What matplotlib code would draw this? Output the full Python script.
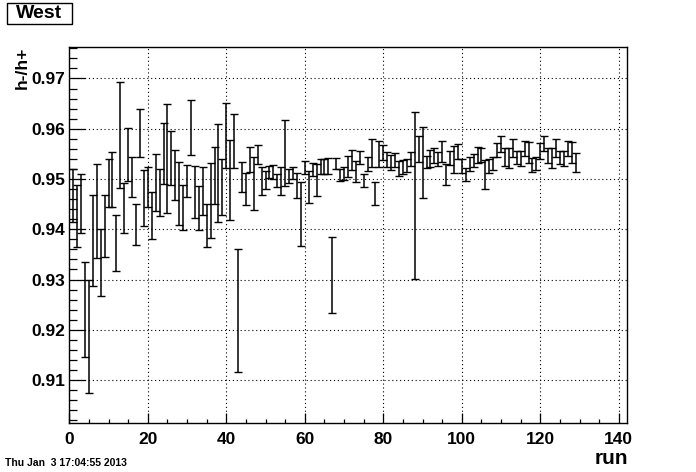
import matplotlib
matplotlib.use("Agg")
import matplotlib.pyplot as plt
from matplotlib.ticker import MultipleLocator, FormatStrFormatter
from matplotlib.patches import Rectangle

plt.rcParams['font.family'] = ['Liberation Sans', 'DejaVu Sans']
plt.rcParams['font.weight'] = 'bold'

runs = list(range(1, 130))
ratio = [
    0.9467, 0.9426, 0.9451, 0.9240, 0.9187, 0.9378, 0.9436, 0.9334, 0.9406, 0.9492,
    0.9499, 0.9373, 0.9588, 0.9442, 0.9549, 0.9504, 0.9410, 0.9591, 0.9462, 0.9484,
    0.9428, 0.9493, 0.9473, 0.9551, 0.9541, 0.9542, 0.9508, 0.9471, 0.9444, 0.9496,
    0.9602, 0.9474, 0.9443, 0.9476, 0.9407, 0.9457, 0.9507, 0.9512, 0.9484, 0.9586,
    0.9498, 0.9575, 0.9239, 0.9504, 0.9480, 0.9538, 0.9491, 0.9549, 0.9496, 0.9498,
    0.9514, 0.9514, 0.9497, 0.9496, 0.9552, 0.9506, 0.9512, 0.9487, 0.9430, 0.9522,
    0.9484, 0.9519, 0.9498, 0.9524, 0.9524, 0.9525, 0.9309, 0.9530, 0.9508, 0.9511,
    0.9524, 0.9537, 0.9515, 0.9542, 0.9497, 0.9529, 0.9551, 0.9472, 0.9550, 0.9552,
    0.9538, 0.9532, 0.9537, 0.9520, 0.9523, 0.9526, 0.9539, 0.9468, 0.9559, 0.9533,
    0.9533, 0.9541, 0.9546, 0.9539, 0.9554, 0.9509, 0.9541, 0.9538, 0.9555, 0.9526,
    0.9509, 0.9529, 0.9536, 0.9547, 0.9547, 0.9509, 0.9526, 0.9530, 0.9557, 0.9570,
    0.9543, 0.9541, 0.9561, 0.9542, 0.9540, 0.9560, 0.9552, 0.9527, 0.9530, 0.9555,
    0.9571, 0.9546, 0.9541, 0.9561, 0.9542, 0.9540, 0.9560, 0.9552, 0.9532,
]
errors = [
    0.0053, 0.0062, 0.0058, 0.0094, 0.0112, 0.0091, 0.0093, 0.0066, 0.0062, 0.0048,
    0.0054, 0.0056, 0.0105, 0.0050, 0.0052, 0.0039, 0.0041, 0.0048, 0.0055, 0.0039,
    0.0047, 0.0056, 0.0046, 0.0060, 0.0108, 0.0053, 0.0049, 0.0062, 0.0045, 0.0031,
    0.0055, 0.0051, 0.0044, 0.0048, 0.0043, 0.0074, 0.0057, 0.0098, 0.0055, 0.0065,
    0.0080, 0.0054, 0.0122, 0.0029, 0.0031, 0.0025, 0.0053, 0.0019, 0.0027, 0.0017,
    0.0012, 0.0014, 0.0012, 0.0027, 0.0065, 0.0013, 0.0012, 0.0024, 0.0064, 0.0013,
    0.0031, 0.0013, 0.0032, 0.0015, 0.0015, 0.0016, 0.0076, 0.0011, 0.0012, 0.0012,
    0.0021, 0.0020, 0.0020, 0.0013, 0.0013, 0.0014, 0.0028, 0.0023, 0.0026, 0.0015,
    0.0015, 0.0015, 0.0014, 0.0015, 0.0014, 0.0013, 0.0014, 0.0166, 0.0026, 0.0071,
    0.0012, 0.0017, 0.0015, 0.0014, 0.0021, 0.0020, 0.0014, 0.0027, 0.0015, 0.0014,
    0.0013, 0.0014, 0.0013, 0.0016, 0.0014, 0.0028, 0.0014, 0.0013, 0.0014, 0.0016,
    0.0018, 0.0020, 0.0018, 0.0013, 0.0015, 0.0015, 0.0021, 0.0014, 0.0013, 0.0016,
    0.0015, 0.0015, 0.0020, 0.0018, 0.0013, 0.0015, 0.0015, 0.0021, 0.0019,
]

title = "West"
xlabel = "run"
ylabel = "h-/h+"
datestamp = "Thu Jan  3 17:04:55 2013"

W, H = 696, 472
fig = plt.figure(figsize=(W / 100, H / 100), dpi=100)
ax = fig.add_axes([69.3 / W, 1 - 423.3 / H, (626.7 - 69.3) / W, (423.3 - 47.3) / H])

ax.errorbar(runs, ratio, yerr=errors, fmt='none', ecolor='black',
            elinewidth=1.1, capsize=2.6, capthick=1.0, zorder=3)

ax.set_xlim(0, 142)
ax.set_ylim(0.9014, 0.9762)

ax.xaxis.set_major_locator(MultipleLocator(20))
ax.xaxis.set_minor_locator(MultipleLocator(5))
ax.yaxis.set_major_locator(MultipleLocator(0.01))
ax.yaxis.set_minor_locator(MultipleLocator(0.002))
ax.yaxis.set_major_formatter(FormatStrFormatter('%.2f'))

ax.tick_params(axis='y', which='major', direction='in', length=11.5, width=0.9,
               left=True, right=False, pad=3, labelsize=12.5)
ax.tick_params(axis='y', which='minor', direction='in', length=5.8, width=0.9,
               left=True, right=False)
ax.tick_params(axis='x', which='major', direction='in', length=7.2, width=0.9,
               bottom=True, top=False, pad=6, labelsize=12.5)
ax.tick_params(axis='x', which='minor', direction='in', length=3.2, width=0.9,
               bottom=True, top=False)

for sp in ax.spines.values():
    sp.set_linewidth(1.0)
    sp.set_color('black')

ax.grid(True, which='major', color='black', linestyle=(0, (1, 2.5)), linewidth=0.8)
ax.set_axisbelow(True)

# title box
fig.patches.append(Rectangle((7 / W, 1 - 24 / H), 65 / W, 21 / H, transform=fig.transFigure,
                             fill=True, facecolor='white', edgecolor='black', linewidth=1.0))
fig.text(39.5 / W, 1 - 13.5 / H, title, ha='center', va='center', fontsize=14, fontweight='bold')

fig.text(22.5 / W, 1 - 47 / H, ylabel, rotation=90, ha='center', va='top',
         fontsize=12.5, fontweight='bold')
fig.text(628 / W, 1 - 459 / H, xlabel, ha='right', va='center', fontsize=15, fontweight='bold')
fig.text(5 / W, 1 - 463 / H, datestamp, ha='left', va='center', fontsize=7.5, fontweight='bold')

fig.savefig('out.png', dpi=100)
